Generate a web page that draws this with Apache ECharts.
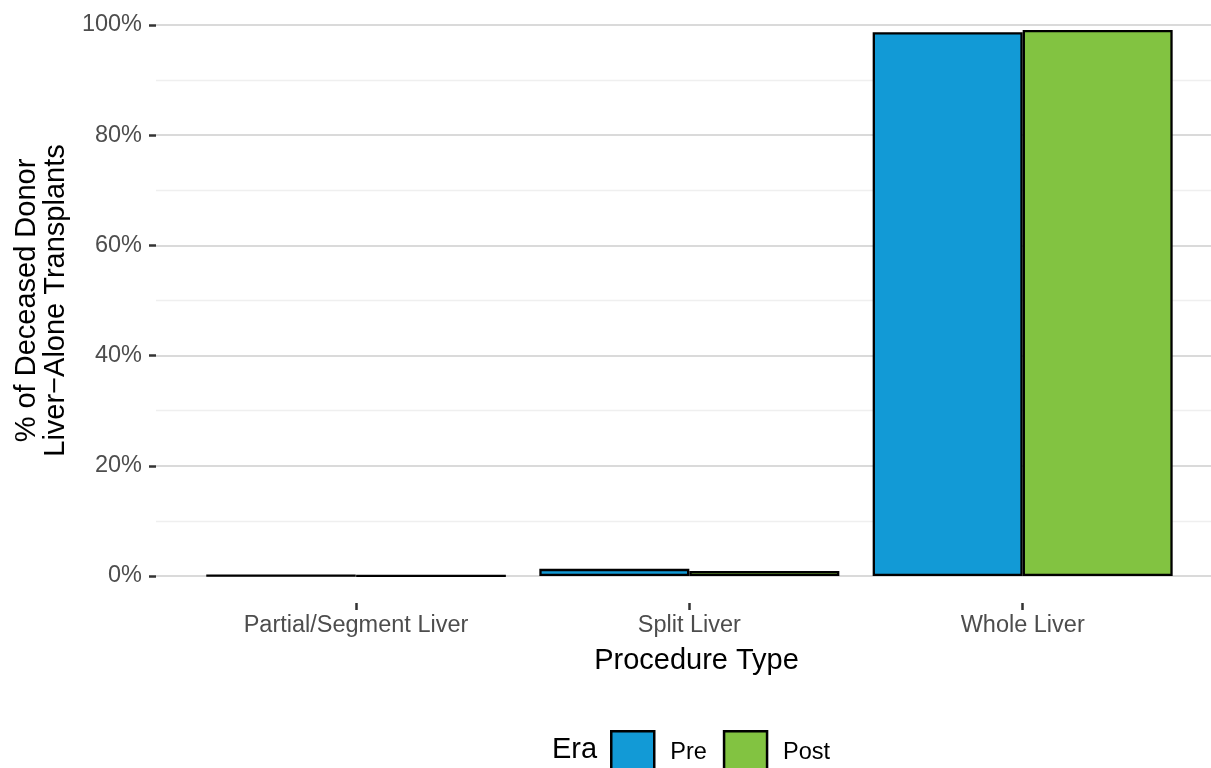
<!DOCTYPE html>
<html>
<head>
<meta charset="utf-8">
<script src="https://cdn.jsdelivr.net/npm/echarts@6/dist/echarts.min.js"></script>
<style>
html,body{margin:0;padding:0;background:#fff;}
#chart{width:1211px;height:768px;}
</style>
</head>
<body>
<div id="chart"></div>
<script>
// ---- data ----
const categories = ['Partial/Segment Liver', 'Split Liver', 'Whole Liver'];
const eraNames = ['Pre', 'Post'];
const preValues = [0.1, 1.3, 98.7];
const postValues = [0.05, 0.9, 99.1];
const categoryPositions = [1, 2, 3];

const FONT = '"Liberation Sans", Arial, Helvetica, sans-serif';
const chart = echarts.init(document.getElementById('chart'), null, {renderer: 'canvas'});

const barStyle = (color) => ({color: color, borderColor: '#000', borderWidth: 2.3});
const X_MIN = 0.4, X_MAX = 3.565;

const option = {
  backgroundColor: '#ffffff',
  animation: false,
  textStyle: {fontFamily: FONT},
  grid: [
    {left: 156, right: 0, top: 25, bottom: 192, containLabel: false},
    {left: 156, right: 0, top: 25, bottom: 165, containLabel: false}
  ],
  xAxis: [
    {
      type: 'value', gridIndex: 0, min: X_MIN, max: X_MAX, show: false,
      splitLine: {show: false}
    },
    {
      type: 'value', gridIndex: 1, min: X_MIN, max: X_MAX,
      splitLine: {show: false},
      axisLine: {show: false},
      axisTick: {show: true, customValues: categoryPositions, length: 7, lineStyle: {color: '#333333', width: 2.5}},
      axisLabel: {
        customValues: categoryPositions,
        formatter: (v) => categories[Math.round(v) - 1] || '',
        color: '#4d4d4d', fontSize: 23.5, fontFamily: FONT, margin: 11, lineHeight: 24
      },
      name: 'Procedure Type',
      nameLocation: 'middle',
      nameGap: 43,
      nameTextStyle: {color: '#000', fontSize: 29, fontFamily: FONT, lineHeight: 29, verticalAlign: 'top', padding: [0, 0, 0, 26]}
    }
  ],
  yAxis: [
    {
      type: 'value', gridIndex: 0,
      min: 0,
      max: 100,
      interval: 20,
      axisLine: {show: false},
      axisTick: {show: true, length: 7, lineStyle: {color: '#333333', width: 2.5}},
      axisLabel: {formatter: '{value}%', color: '#4d4d4d', fontSize: 23.5, fontFamily: FONT, margin: 14},
      splitLine: {show: true, lineStyle: {color: '#dadada', width: 2.2}},
      minorTick: {show: false, splitNumber: 2},
      minorSplitLine: {show: true, lineStyle: {color: '#efefef', width: 1.4}},
      name: '% of Deceased Donor\nLiver\u2212Alone Transplants',
      nameLocation: 'middle',
      nameRotate: 90,
      nameGap: 86,
      nameTextStyle: {color: '#000', fontSize: 29, fontFamily: FONT, lineHeight: 29}
    },
    {type: 'value', gridIndex: 1, show: false, min: 0, max: 100, splitLine: {show: false}}
  ],
  legend: {
    data: eraNames,
    left: 610,
    top: 730,
    padding: 0,
    orient: 'horizontal',
    itemWidth: 43,
    itemHeight: 43,
    itemGap: 16,
    icon: 'rect',
    itemStyle: {borderColor: '#000', borderWidth: 2.5},
    textStyle: {color: '#000', fontSize: 23.5, fontFamily: FONT, padding: [0, 0, 0, 11]},
    selectedMode: false
  },
  graphic: [{
    type: 'text',
    left: 552,
    top: 735,
    style: {text: 'Era', fill: '#000', font: '29px ' + FONT}
  }],
  series: [
    {
      name: eraNames[0], type: 'bar', xAxisIndex: 0, yAxisIndex: 0, barWidth: 150, barGap: '0%',
      itemStyle: barStyle('#129ad6'),
      data: preValues.map((v, i) => [categoryPositions[i], v])
    },
    {
      name: eraNames[1], type: 'bar', xAxisIndex: 0, yAxisIndex: 0, barWidth: 150, barGap: '0%',
      itemStyle: barStyle('#82c341'),
      data: postValues.map((v, i) => [categoryPositions[i], v])
    }
  ]
};
chart.setOption(option);
</script>
</body>
</html>
